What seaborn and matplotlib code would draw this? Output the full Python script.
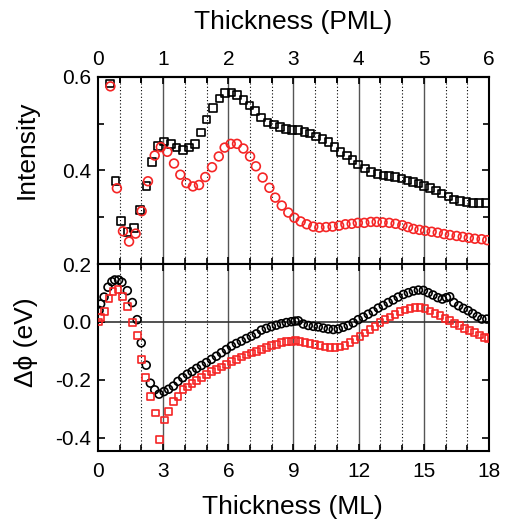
import numpy as np
import pandas as pd
import matplotlib
matplotlib.use("Agg")
import matplotlib.pyplot as plt
import seaborn as sns
from matplotlib.ticker import MultipleLocator, FixedLocator

# ---------------- data ----------------
# Upper panel: intensity vs thickness (ML)
int_sq_x = [0.54, 0.81, 1.07, 1.35, 1.66, 1.92, 2.23, 2.49, 2.76, 3.04, 3.35, 3.62, 3.90, 4.18,
            4.47, 4.73, 5.00, 5.30, 5.60, 5.85, 6.14, 6.41, 6.69, 6.98, 7.23, 7.50, 7.80, 8.10,
            8.38, 8.66, 8.93, 9.22, 9.50, 9.76, 10.04, 10.34, 10.62, 10.88, 11.17, 11.45, 11.72,
            11.98, 12.29, 12.57, 12.86, 13.14, 13.41, 13.67, 13.98, 14.24, 14.49, 14.75, 15.01,
            15.29, 15.56, 15.82, 16.13, 16.39, 16.67, 16.97, 17.25, 17.54, 17.86]
int_sq_y = [0.586, 0.377, 0.292, 0.268, 0.277, 0.315, 0.367, 0.418, 0.452, 0.462, 0.457, 0.449,
            0.444, 0.449, 0.457, 0.481, 0.509, 0.534, 0.554, 0.566, 0.567, 0.561, 0.551, 0.539,
            0.527, 0.513, 0.503, 0.498, 0.493, 0.489, 0.487, 0.486, 0.482, 0.479, 0.473, 0.467,
            0.461, 0.450, 0.440, 0.432, 0.423, 0.413, 0.404, 0.397, 0.392, 0.389, 0.388, 0.386,
            0.383, 0.379, 0.376, 0.372, 0.367, 0.362, 0.357, 0.351, 0.344, 0.338, 0.335, 0.332,
            0.330, 0.330, 0.330]
int_ci_x = [0.57, 0.87, 1.15, 1.43, 1.73, 2.01, 2.30, 2.61, 2.89, 3.19, 3.50, 3.79, 4.07, 4.37,
            4.65, 4.94, 5.25, 5.56, 5.83, 6.11, 6.40, 6.69, 7.00, 7.27, 7.58, 7.89, 8.16, 8.46,
            8.76, 9.04, 9.33, 9.61, 9.91, 10.19, 10.50, 10.80, 11.10, 11.39, 11.68, 11.96, 12.26,
            12.56, 12.83, 13.10, 13.41, 13.70, 14.01, 14.27, 14.52, 14.80, 15.06, 15.36, 15.64,
            15.93, 16.20, 16.51, 16.79, 17.07, 17.35, 17.66, 17.92]
int_ci_y = [0.580, 0.362, 0.270, 0.248, 0.265, 0.313, 0.377, 0.432, 0.450, 0.440, 0.415, 0.391,
            0.373, 0.366, 0.369, 0.386, 0.407, 0.430, 0.449, 0.457, 0.457, 0.447, 0.430, 0.409,
            0.385, 0.363, 0.342, 0.325, 0.310, 0.299, 0.291, 0.285, 0.280, 0.278, 0.279, 0.280,
            0.282, 0.285, 0.286, 0.288, 0.288, 0.290, 0.290, 0.289, 0.288, 0.286, 0.283, 0.279,
            0.275, 0.273, 0.271, 0.269, 0.267, 0.264, 0.262, 0.260, 0.258, 0.256, 0.254, 0.253,
            0.251]

# Lower panel: work-function change vs thickness (ML)
dphi_ci_x = [0.05, 0.12, 0.28, 0.46, 0.64, 0.77, 0.95, 1.10, 1.35, 1.58, 1.80, 1.99, 2.22, 2.41,
             2.61, 2.81, 3.04, 3.25, 3.47, 3.68, 3.90, 4.11, 4.33, 4.54, 4.76, 4.99, 5.22, 5.45,
             5.68, 5.91, 6.14, 6.37, 6.60, 6.83, 7.06, 7.29, 7.52, 7.75, 7.98, 8.21, 8.44, 8.67,
             8.90, 9.07, 9.22, 9.45, 9.68, 9.91, 10.14, 10.37, 10.60, 10.83, 11.06, 11.29, 11.52,
             11.75, 11.98, 12.21, 12.44, 12.67, 12.90, 13.13, 13.36, 13.59, 13.82, 14.06, 14.29,
             14.52, 14.75, 14.98, 15.20, 15.42, 15.64, 15.85, 16.04, 16.19, 16.38, 16.60, 16.82,
             17.04, 17.25, 17.46, 17.67, 17.90]
dphi_ci_y = [0.040, 0.062, 0.086, 0.120, 0.139, 0.145, 0.145, 0.137, 0.108, 0.067, 0.008, -0.072,
             -0.149, -0.211, -0.234, -0.249, -0.240, -0.232, -0.221, -0.205, -0.192, -0.180,
             -0.171, -0.160, -0.150, -0.140, -0.129, -0.118, -0.106, -0.095, -0.083, -0.074,
             -0.066, -0.057, -0.049, -0.041, -0.028, -0.022, -0.016, -0.011, -0.006, -0.002,
             0.001, 0.003, 0.004, -0.007, -0.012, -0.015, -0.017, -0.021, -0.024, -0.026, -0.024,
             -0.018, -0.012, -0.003, 0.008, 0.017, 0.027, 0.036, 0.048, 0.057, 0.067, 0.076,
             0.086, 0.095, 0.101, 0.107, 0.110, 0.109, 0.101, 0.093, 0.084, 0.079, 0.084, 0.087,
             0.067, 0.056, 0.047, 0.039, 0.029, 0.019, 0.010, 0.010]
dphi_sq_x = [0.05, 0.12, 0.31, 0.51, 0.69, 0.92, 1.12, 1.35, 1.57, 1.80, 1.99, 2.19, 2.43, 2.64,
             2.84, 3.07, 3.25, 3.47, 3.68, 3.91, 4.11, 4.33, 4.54, 4.77, 4.99, 5.22, 5.45, 5.68,
             5.91, 6.14, 6.37, 6.60, 6.83, 7.06, 7.29, 7.52, 7.75, 7.98, 8.21, 8.44, 8.67, 8.90,
             9.10, 9.30, 9.53, 9.76, 9.99, 10.22, 10.45, 10.68, 10.91, 11.14, 11.37, 11.60, 11.83,
             12.06, 12.29, 12.52, 12.75, 12.98, 13.21, 13.44, 13.67, 13.90, 14.13, 14.36, 14.59,
             14.82, 15.05, 15.28, 15.51, 15.74, 15.97, 16.20, 16.43, 16.66, 16.89, 17.12, 17.35,
             17.58, 17.81, 17.98]
dphi_sq_y = [0.000, 0.016, 0.036, 0.080, 0.105, 0.111, 0.088, 0.053, -0.001, -0.047, -0.129,
             -0.192, -0.258, -0.314, -0.406, -0.338, -0.308, -0.275, -0.257, -0.232, -0.224,
             -0.212, -0.201, -0.192, -0.180, -0.171, -0.163, -0.155, -0.146, -0.137, -0.129,
             -0.121, -0.114, -0.107, -0.101, -0.094, -0.088, -0.082, -0.077, -0.072, -0.068,
             -0.066, -0.064, -0.068, -0.072, -0.074, -0.078, -0.081, -0.086, -0.089, -0.089,
             -0.086, -0.081, -0.072, -0.061, -0.049, -0.038, -0.026, -0.015, -0.003, 0.008, 0.017,
             0.027, 0.035, 0.041, 0.047, 0.050, 0.051, 0.046, 0.038, 0.030, 0.022, 0.013, 0.004,
             -0.005, -0.013, -0.022, -0.030, -0.037, -0.045, -0.053, -0.057]

ml_ticks = [0, 3, 6, 9, 12, 15, 18]
pml_ticks = [0, 1, 2, 3, 4, 5, 6]

# ---------------- style ----------------
sns.set_style("ticks")
plt.rcParams["font.family"] = ["Liberation Sans", "DejaVu Sans"]
plt.rcParams["axes.unicode_minus"] = False
plt.rcParams["xtick.direction"] = "in"
plt.rcParams["ytick.direction"] = "in"
for k in ("text.color", "axes.labelcolor", "xtick.color", "ytick.color",
          "xtick.labelcolor", "ytick.labelcolor", "axes.edgecolor"):
    plt.rcParams[k] = "black"

RED = "#f52525"
fig = plt.figure(figsize=(5.06, 5.21), dpi=100)
L, W = 98 / 506, (489 - 98) / 506
ax1 = fig.add_axes([L, 1 - 264 / 521, W, 187 / 521])
ax2 = fig.add_axes([L, 1 - 451 / 521, W, 187 / 521])

up_sq = pd.DataFrame({"x": int_sq_x, "y": int_sq_y})
up_ci = pd.DataFrame({"x": int_ci_x, "y": int_ci_y})
lo_ci = pd.DataFrame({"x": dphi_ci_x, "y": dphi_ci_y})
lo_sq = pd.DataFrame({"x": dphi_sq_x, "y": dphi_sq_y})

for ax in (ax1, ax2):
    for v in range(1, 18):
        if v % 3 == 0:
            ax.axvline(v, color="#555555", lw=1.0, zorder=0)
        else:
            ax.axvline(v, color="black", lw=0.8, ls=(0, (1, 2)), zorder=0)

ax2.axhline(0, color="#333333", lw=1.2, zorder=0)

sns.scatterplot(data=up_sq, x="x", y="y", ax=ax1, marker="s", s=30, facecolor="none",
                edgecolor="black", linewidth=1.2, zorder=3)
sns.scatterplot(data=up_ci, x="x", y="y", ax=ax1, marker="o", s=40, facecolor="none",
                edgecolor=RED, linewidth=1.2, zorder=3)
sns.scatterplot(data=lo_ci, x="x", y="y", ax=ax2, marker="o", s=32, facecolor="none",
                edgecolor="black", linewidth=1.2, zorder=3)
sns.scatterplot(data=lo_sq, x="x", y="y", ax=ax2, marker="s", s=24, facecolor="none",
                edgecolor=RED, linewidth=1.2, zorder=4)

for ax in (ax1, ax2):
    ax.set_xlim(0, 18)
    for sp in ax.spines.values():
        sp.set_linewidth(1.5)
        sp.set_color("black")
    ax.xaxis.set_major_locator(FixedLocator(ml_ticks))
    ax.xaxis.set_minor_locator(MultipleLocator(1))
    ax.tick_params(which="both", top=True, bottom=True, left=True, right=True,
                   width=1.2, color="black", labelcolor="black")
    ax.tick_params(which="major", length=5, labelsize=15)
    ax.tick_params(which="minor", length=4)

ax1.set_ylim(0.2, 0.6)
ax1.yaxis.set_major_locator(FixedLocator([0.2, 0.4, 0.6]))
ax1.yaxis.set_minor_locator(FixedLocator([0.3, 0.5]))
ax1.set_yticklabels(["0.2", "0.4", "0.6"])
ax1.tick_params(axis="x", labelbottom=False, top=False)
ax1.tick_params(axis="y", pad=5)

ax2.set_ylim(-0.445, 0.2)
ax2.yaxis.set_major_locator(FixedLocator([-0.4, -0.2, 0.0, 0.2]))
ax2.yaxis.set_minor_locator(FixedLocator([]))
ax2.set_yticklabels(["-0.4", "-0.2", "0.0", ""])
ax2.set_xticklabels([str(t) for t in ml_ticks])
ax2.tick_params(axis="x", pad=8)
ax2.tick_params(axis="y", pad=5)

sec = ax1.secondary_xaxis("top", functions=(lambda x: x / 3.0, lambda p: p * 3.0))
sec.xaxis.set_major_locator(FixedLocator(pml_ticks))
sec.xaxis.set_minor_locator(MultipleLocator(1 / 3))
sec.tick_params(which="both", direction="in", width=1.2, color="black", labelcolor="black")
sec.tick_params(which="major", length=5, labelsize=15, pad=6)
sec.tick_params(which="minor", length=4)
sec.spines["top"].set_linewidth(1.5)
sec.set_xlabel("Thickness (PML)", fontsize=19, labelpad=15, color="black")

ax1.set_xlabel("")
ax1.set_ylabel("Intensity", fontsize=19, color="black")
ax1.yaxis.set_label_coords(-0.153, 0.61)
ax2.set_xlabel("Thickness (ML)", fontsize=19, color="black")
ax2.xaxis.set_label_coords(0.497, -0.235)
ax2.set_ylabel("\u0394\u03d5 (eV)", fontsize=19, color="black")
ax2.yaxis.set_label_coords(-0.153, 0.58)

fig.savefig("out.png", dpi=100)
